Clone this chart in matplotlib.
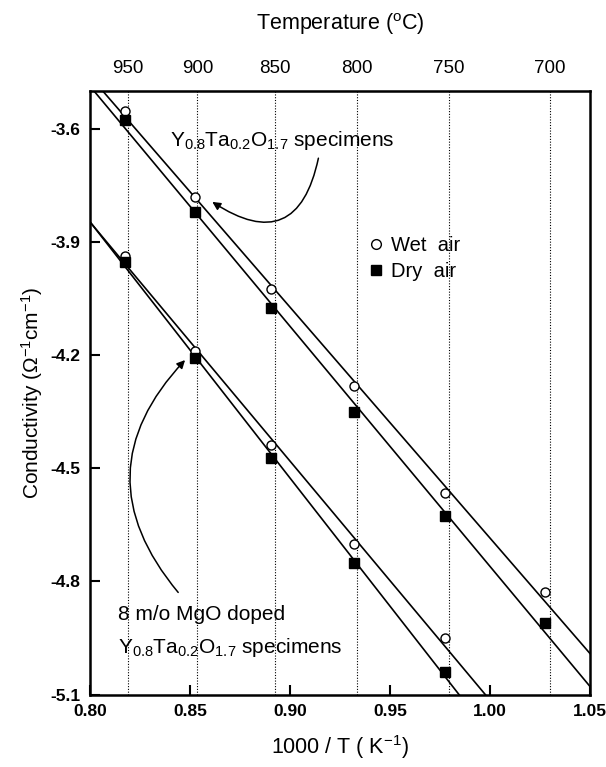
import numpy as np
import matplotlib.pyplot as plt
from matplotlib.lines import Line2D

plt.rcParams['font.family'] = ['Liberation Sans', 'DejaVu Sans']
plt.rcParams['mathtext.fontset'] = 'custom'
plt.rcParams['mathtext.rm'] = 'Liberation Sans'
plt.rcParams['mathtext.it'] = 'Liberation Sans:italic'
plt.rcParams['mathtext.bf'] = 'Liberation Sans:bold'

# 1000/T of the measuring temperatures
inv_T = [0.8176, 0.8525, 0.8905, 0.9320, 0.9775, 1.0277]

# Y0.8Ta0.2O1.7
ytao_wet = [-3.552, -3.781, -4.026, -4.282, -4.567, -4.829]
ytao_dry = [-3.578, -3.821, -4.076, -4.351, -4.628, -4.911]

# 8 m/o MgO doped Y0.8Ta0.2O1.7 (no 700 C point)
mgo_wet = [-3.938, -4.189, -4.438, -4.700, -4.951]
mgo_dry = [-3.953, -4.209, -4.474, -4.751, -5.040]

# top axis: temperature marks (dotted guide lines)
temp_labels = ['950', '900', '850', '800', '750', '700']
temp_pos = [0.8190, 0.8537, 0.8925, 0.9335, 0.9795, 1.0300]

fig = plt.figure(figsize=(6.06, 7.67), dpi=100)
ax = fig.add_axes([0.1485, 0.0945, 0.825, 0.7869])

for xp in temp_pos:
    ax.axvline(xp, color='black', ls=(0, (1, 1.5)), lw=0.8, zorder=1)

xfit = np.array([0.78, 1.07])
series = [(inv_T, ytao_wet, 'o'), (inv_T, ytao_dry, 's'),
          (inv_T[:5], mgo_wet, 'o'), (inv_T[:5], mgo_dry, 's')]
for xs, ys, m in series:
    k, b = np.polyfit(xs, ys, 1)
    ax.plot(xfit, k * xfit + b, color='black', lw=1.2, zorder=2)
    if m == 'o':
        ax.plot(xs, ys, 'o', ms=6.5, mfc='white', mec='black', mew=1.0, zorder=3)
    else:
        ax.plot(xs, ys, 's', ms=7, mfc='black', mec='black', zorder=3)

ax.set_xlim(0.80, 1.05)
ax.set_ylim(-5.1, -3.5)
ax.set_xticks([0.80, 0.85, 0.90, 0.95, 1.00, 1.05])
ax.set_xticklabels(['0.80', '0.85', '0.90', '0.95', '1.00', '1.05'])
ax.set_yticks([-5.1, -4.8, -4.5, -4.2, -3.9, -3.6])
ax.set_yticklabels(['-5.1', '-4.8', '-4.5', '-4.2', '-3.9', '-3.6'])
ax.tick_params(direction='in', length=7, width=1.5, labelsize=12.5, pad=7)
for lab in ax.get_xticklabels() + ax.get_yticklabels():
    lab.set_fontweight('bold')
for sp in ax.spines.values():
    sp.set_linewidth(1.8)

ax.set_xlabel('1000 / T ( K$^{-1}$)', fontsize=15.5, labelpad=10)
ax.set_ylabel('Conductivity ($\\Omega^{-1}$cm$^{-1}$)', fontsize=15, labelpad=4)

top = ax.secondary_xaxis('top')
top.set_xticks(temp_pos)
top.set_xticklabels(temp_labels)
top.tick_params(length=0, labelsize=13.5, pad=10)
top.set_xlabel('Temperature ($^{\\mathrm{o}}$C)', fontsize=15.5, labelpad=22)

handles = [Line2D([], [], ls='none', marker='o', ms=7, mfc='white', mec='black'),
           Line2D([], [], ls='none', marker='s', ms=7, mfc='black', mec='black')]
ax.legend(handles, ['Wet  air', 'Dry  air'], loc='upper left',
          bbox_to_anchor=(0.52, 0.79), frameon=False, fontsize=14.5,
          handlelength=0.8, handletextpad=0.35, labelspacing=0.35)

ax.text(0.840, -3.632, 'Y$_{0.8}$Ta$_{0.2}$O$_{1.7}$ specimens', fontsize=15,
        va='center', ha='left')
ax.annotate('', xy=(0.860, -3.790), xytext=(0.9145, -3.671),
            arrowprops=dict(arrowstyle='-|>', color='black', lw=1.1,
                            mutation_scale=12,
                            connectionstyle='arc3,rad=-0.75'))

ax.text(0.814, -4.888, '8 m/o MgO doped', fontsize=15, va='center', ha='left')
ax.text(0.814, -4.975, 'Y$_{0.8}$Ta$_{0.2}$O$_{1.7}$ specimens', fontsize=15,
        va='center', ha='left')
ax.annotate('', xy=(0.8485, -4.208), xytext=(0.845, -4.835),
            arrowprops=dict(arrowstyle='-|>', color='black', lw=1.1,
                            mutation_scale=12,
                            connectionstyle='arc3,rad=-0.45'))

fig.savefig('out.png', dpi=100)
